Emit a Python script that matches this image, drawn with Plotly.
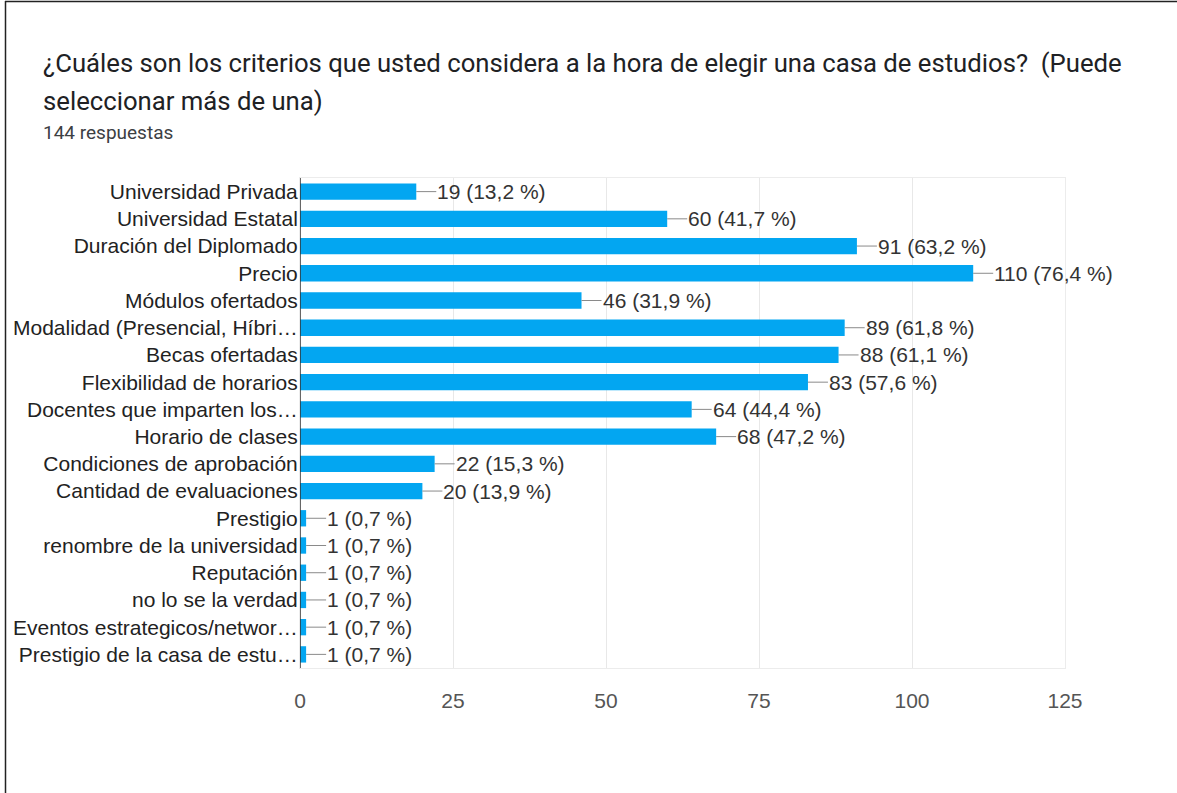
import plotly.graph_objects as go

categories = [
    "Universidad Privada", "Universidad Estatal", "Duración del Diplomado", "Precio",
    "Módulos ofertados", "Modalidad (Presencial, Híbri…", "Becas ofertadas",
    "Flexibilidad de horarios", "Docentes que imparten los…", "Horario de clases",
    "Condiciones de aprobación", "Cantidad de evaluaciones", "Prestigio",
    "renombre de la universidad", "Reputación", "no lo se la verdad",
    "Eventos estrategicos/networ…", "Prestigio de la casa de estu…",
]
counts = [19, 60, 91, 110, 46, 89, 88, 83, 64, 68, 22, 20, 1, 1, 1, 1, 1, 1]
percents = ["13,2", "41,7", "63,2", "76,4", "31,9", "61,8", "61,1", "57,6", "44,4",
            "47,2", "15,3", "13,9", "0,7", "0,7", "0,7", "0,7", "0,7", "0,7"]
x_ticks = [0, 25, 50, 75, 100, 125]

title_l1 = "¿Cuáles son los criterios que usted considera a la hora de elegir una casa de estudios?  (Puede"
title_l2 = "seleccionar más de una)"
subtitle = "144 respuestas"

W, H = 1177, 793
L, R, T, B = 300, 112, 178, 125
pw, ph = W - L - R, H - T - B

def px_x(p):
    return (p - L) / pw

def px_y(p):
    return (H - B - p) / ph

FONT = "Liberation Sans, Arial"

fig = go.Figure()
fig.add_trace(go.Bar(
    x=counts, y=categories, orientation="h",
    marker=dict(color="#03a6f1", line=dict(width=0)),
    hoverinfo="skip",
))

annotations = []
for c, v, p in zip(categories, counts, percents):
    annotations.append(dict(
        x=v, y=c, xref="x", yref="y", text=f"{v} ({p} %)",
        showarrow=True, arrowhead=0, arrowwidth=1, arrowcolor="#8a8a8a",
        ax=20, ay=0, xanchor="left", yanchor="middle", borderpad=0,
        font=dict(family=FONT, size=21, color="#333333"),
    ))

annotations += [
    dict(x=px_x(41), y=px_y(63), xref="paper", yref="paper", text=title_l1,
         showarrow=False, xanchor="left", yanchor="middle",
         font=dict(family="Roboto", size=25.7, color="#202124")),
    dict(x=px_x(41), y=px_y(101), xref="paper", yref="paper", text=title_l2,
         showarrow=False, xanchor="left", yanchor="middle",
         font=dict(family="Roboto", size=25.7, color="#202124")),
    dict(x=px_x(41), y=px_y(132), xref="paper", yref="paper", text=subtitle,
         showarrow=False, xanchor="left", yanchor="middle",
         font=dict(family="Roboto", size=19, color="#3c4043")),
]

shapes = [
    dict(type="line", xref="paper", yref="paper", x0=px_x(5), x1=px_x(W), y0=px_y(1.5), y1=px_y(1.5),
         line=dict(color="#222222", width=1.5)),
    dict(type="line", xref="paper", yref="paper", x0=px_x(5.5), x1=px_x(5.5), y0=px_y(1), y1=px_y(H),
         line=dict(color="#222222", width=1.5)),
    dict(type="line", xref="x", yref="paper", x0=0, x1=0, y0=0, y1=1,
         line=dict(color="#333333", width=1.5), layer="above"),
]

fig.update_layout(
    width=W, height=H,
    margin=dict(l=L, r=R, t=T, b=B, autoexpand=False),
    paper_bgcolor="white", plot_bgcolor="white",
    showlegend=False, bargap=0.4,
    annotations=annotations, shapes=shapes,
    xaxis=dict(
        range=[0, 125], tickvals=x_ticks, ticktext=[str(t) for t in x_ticks],
        showgrid=True, gridcolor="#e8e8e8", gridwidth=1, automargin=False,
        zeroline=False, showline=True, mirror=True, linecolor="#ececec", linewidth=1,
        ticks="outside", ticklen=14, tickcolor="rgba(0,0,0,0)",
        tickfont=dict(family=FONT, size=21, color="#555555"),
        fixedrange=True,
    ),
    yaxis=dict(
        autorange="reversed", showgrid=False, zeroline=False, automargin=False,
        showline=True, mirror=True, linecolor="#ececec", linewidth=1,
        ticks="", ticklen=0, ticklabelstandoff=-3,
        tickfont=dict(family=FONT, size=21, color="#222222"),
        fixedrange=True,
    ),
)

fig.write_html("out.html", config={"displayModeBar": False},
               post_script="document.body.style.margin='0';")
